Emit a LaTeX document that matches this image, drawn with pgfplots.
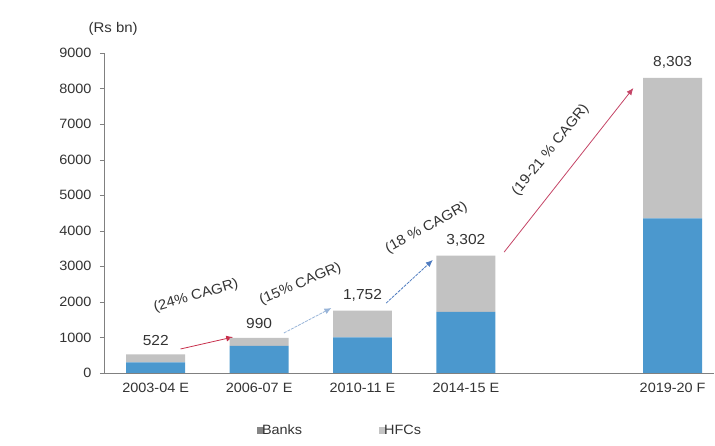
\documentclass[border=0pt]{standalone}
\usepackage{pgfplots}
\pgfplotsset{compat=1.18}
\usepackage{fontspec}
\setmainfont{Liberation Sans}[FakeStretch=1.07]
\usetikzlibrary{arrows.meta}
\definecolor{banks}{HTML}{4B98CE}
\definecolor{hfcs}{HTML}{C2C2C2}
\definecolor{legb}{HTML}{858585}
\definecolor{legh}{HTML}{C4C4C4}
\definecolor{txt}{HTML}{333333}
\definecolor{axl}{HTML}{808080}
\definecolor{arred}{HTML}{C8304C}
\definecolor{arlb}{HTML}{98B4D8}
\definecolor{arbl}{HTML}{4F7CC0}
\definecolor{arpk}{HTML}{C44466}
\tikzset{
  tot/.style={font=\fontsize{14.5}{16}\selectfont, text=txt, anchor=south, inner sep=0pt, yshift=9pt},
  cagr/.style={font=\fontsize{14}{16}\selectfont, text=txt},
  arr/.style={line width=0.8pt, -{Latex[length=7pt,width=6pt]}},
}
\begin{document}
\begin{tikzpicture}
\path (0,0) rectangle (715pt,446pt);
\begin{axis}[
  at={(104pt,73pt)}, anchor=south west,
  scale only axis, width=610pt, height=320pt,
  ybar stacked, bar width=0.57,
  xmin=-0.5, xmax=5.4, ymin=0, ymax=9000,
  xtick={0,1,2,3,5},
  xticklabels={2003-04 E,2006-07 E,2010-11 E,2014-15 E,2019-20 F},
  ytick={0,1000,...,9000},
  axis x line=bottom, axis y line=left,
  axis line style={axl, -},
  x tick style={draw=none},
  y tick style={axl},
  tick align=outside, major tick length=4pt,
  /pgf/number format/assume math mode=true,
  /pgf/number format/1000 sep={},
  ticklabel style={font=\fontsize{13.5}{15}\selectfont, text=txt},
  yticklabel style={xshift=-5pt},
  xticklabel style={yshift=-3pt},
  legend style={draw=none, fill=none, at={(0.387,-0.18)}, anchor=center,
    legend columns=2, font=\fontsize{13.5}{15}\selectfont, text=txt,
    /tikz/every even column/.append style={column sep=75pt}},
  legend image code/.code={\fill[#1] (0pt,-3.5pt) rectangle (7pt,3.5pt);},
  clip=false,
]
\addplot[fill=banks, draw=none, legend image post style={fill=legb}] coordinates {(0,300) (1,760) (2,1000) (3,1720) (5,4350)};
\addlegendentry{\hspace{-4pt}Banks}
\addplot[fill=hfcs, draw=none, legend image post style={fill=legh}] coordinates {(0,222) (1,230) (2,752) (3,1582) (5,3953)};
\addlegendentry{\hspace{-4pt}HFCs}
\node[tot] at (axis cs:0,522) {522};
\node[tot] at (axis cs:1,990) {990};
\node[tot] at (axis cs:2,1752) {1,752};
\node[tot] at (axis cs:3,3302) {3,302};
\node[tot] at (axis cs:5,8303) {8,303};
\draw[arr, arred] (axis cs:0.24,675) -- (axis cs:0.75,1012);
\draw[arr, arlb, dash pattern=on 3pt off 1pt] (axis cs:1.24,1125) -- (axis cs:1.70,1828);
\draw[arr, arbl, dash pattern=on 3pt off 1pt] (axis cs:2.23,1968) -- (axis cs:2.68,3178);
\draw[arr, arpk] (axis cs:3.37,3400) -- (axis cs:4.62,8015);
\node[cagr, rotate=16] at (axis cs:0.39,2165) {(24\% CAGR)};
\node[cagr, rotate=23] at (axis cs:1.40,2504) {(15\% CAGR)};
\node[cagr, rotate=29] at (axis cs:2.62,4078) {(18 \% CAGR)};
\node[cagr, rotate=51] at (axis cs:3.82,6271) {(19-21 \% CAGR)};
\node[font=\fontsize{14}{16}\selectfont, text=txt] at (rel axis cs:0.015,1.075) {(Rs bn)};
\end{axis}
\end{tikzpicture}
\end{document}
